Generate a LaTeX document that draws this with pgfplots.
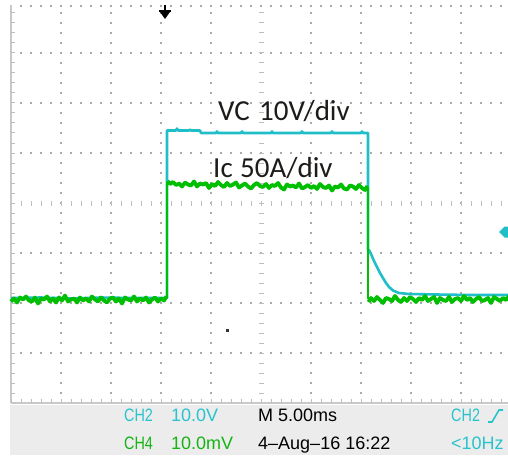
\documentclass[border=0pt]{standalone}
\usepackage{fontspec}
\setmainfont{Liberation Sans}
\newfontfamily\lblfont{Carlito}
\usepackage{pgfplots}
\pgfplotsset{compat=1.18}
\definecolor{trcyan}{RGB}{32,190,200}
\definecolor{trgreen}{RGB}{0,190,0}
\definecolor{txcyan}{RGB}{40,195,205}
\definecolor{txgreen}{RGB}{20,180,20}
\definecolor{griddot}{RGB}{170,170,170}
\definecolor{gridln}{RGB}{200,200,200}
\definecolor{gridtk}{RGB}{190,190,190}
\definecolor{panel}{RGB}{236,236,236}
\definecolor{lbl}{RGB}{30,28,25}
\begin{document}
\begin{tikzpicture}
\begin{axis}[scale only axis, width=508pt, height=456pt,
  xmin=-0.22, xmax=9.94, ymin=-5.06, ymax=4.06, hide axis, clip=true]
\fill[white] (axis cs:-0.22,-5.06) rectangle (axis cs:9.94,4.06);
\fill[panel] (axis cs:-0.02,-4.04) rectangle (axis cs:9.94,-5.04);
% dotted grid
\pgfplotsinvokeforeach{1,2,3,4,6,7,8,9}{\draw[griddot, line width=1.4pt, dash pattern=on 1.4pt off 8.6pt] (axis cs:#1,-4.014) -- (axis cs:#1,3.98);}
\pgfplotsinvokeforeach{-3,-2,-1,1,2,3,3.94}{\draw[griddot, line width=1.4pt, dash pattern=on 1.4pt off 8.6pt] (axis cs:-0.014,#1) -- (axis cs:9.94,#1);}
% centre lines with ticks
\draw[gridtk, line width=5pt, dash pattern=on 1pt off 9pt] (axis cs:-0.01,0) -- (axis cs:9.94,0);
\draw[gridtk, line width=5pt, dash pattern=on 1pt off 9pt] (axis cs:5,-4.01) -- (axis cs:5,3.94);
% borders
\draw[gridln, line width=1.5pt] (axis cs:0,-4) -- (axis cs:0,3.96);
\draw[gridtk, line width=4pt, dash pattern=on 1pt off 9pt] (axis cs:0.04,-4.01) -- (axis cs:0.04,3.94);
\draw[gridln, line width=1.5pt] (axis cs:0,-4) -- (axis cs:9.94,-4);
\draw[gridtk, line width=4pt, dash pattern=on 1pt off 9pt] (axis cs:-0.01,-3.96) -- (axis cs:9.94,-3.96);

% CH2 : VC (cyan)
\addplot[trcyan, line width=2.6pt, line join=round, mark=none] coordinates {
(0,-1.90) (0.6,-1.89) (1.2,-1.91) (1.8,-1.89) (2.4,-1.90) (3.12,-1.90)
(3.12,1.45) (3.30,1.45) (3.32,1.49) (3.34,1.45) (3.56,1.45) (3.58,1.47) (3.60,1.45)
(3.78,1.45) (3.80,1.40) (4.10,1.40) (4.12,1.43) (4.14,1.40) (4.60,1.40) (4.62,1.43) (4.64,1.40)
(5.20,1.40) (5.22,1.43) (5.24,1.40) (5.80,1.40) (5.82,1.43) (5.84,1.40) (6.40,1.40) (6.42,1.43) (6.44,1.40)
(7.00,1.40) (7.02,1.43) (7.04,1.40) (7.14,1.40)
(7.14,-0.94) (7.16,-0.94) (7.20,-1.02) (7.26,-1.16) (7.32,-1.28) (7.38,-1.40) (7.44,-1.50)
(7.50,-1.60) (7.56,-1.68) (7.64,-1.75) (7.76,-1.80) (7.96,-1.82) (8.50,-1.83) (9.20,-1.84) (9.96,-1.84)
};
% CH4 : Ic (green) -- edges
\addplot[trgreen, line width=2pt, mark=none] coordinates {(3.12,-1.90) (3.12,0.42)};
\addplot[trgreen, line width=2pt, mark=none] coordinates {(7.14,0.32) (7.14,-1.92)};
% CH4 : Ic (green) -- before the pulse
\addplot[trgreen, line width=3.8pt, line join=round, mark=none] coordinates {
(0.00,-1.97) (0.06,-1.91) (0.12,-1.99) (0.18,-1.89) (0.24,-1.93) (0.30,-1.87) (0.36,-1.95) (0.42,-1.97)
(0.48,-1.89) (0.54,-2.01) (0.60,-1.91) (0.66,-1.93) (0.72,-1.87) (0.78,-1.97) (0.84,-1.91) (0.90,-1.99)
(0.96,-1.89) (1.02,-1.95) (1.08,-1.85) (1.14,-1.97) (1.20,-1.93) (1.26,-1.91) (1.32,-1.99) (1.38,-1.89)
(1.44,-1.95) (1.50,-1.91) (1.56,-1.97) (1.62,-1.87) (1.68,-1.93) (1.74,-1.97) (1.80,-1.89) (1.86,-1.95)
(1.92,-1.99) (1.98,-1.91) (2.04,-1.89) (2.10,-1.97) (2.16,-1.91) (2.22,-2.01) (2.28,-1.89) (2.34,-1.93)
(2.40,-1.95) (2.46,-1.87) (2.52,-1.97) (2.58,-1.91) (2.64,-1.95) (2.70,-1.89) (2.76,-1.99) (2.82,-1.93)
(2.88,-1.89) (2.94,-1.97) (3.00,-1.91) (3.06,-1.95) (3.11,-1.87)
};
% during the pulse
\addplot[trgreen, line width=3.8pt, line join=round, mark=none] coordinates {
(3.13,0.44) (3.18,0.38) (3.24,0.42) (3.30,0.36) (3.36,0.39) (3.42,0.33) (3.48,0.41) (3.54,0.37)
(3.60,0.35) (3.66,0.43) (3.72,0.33) (3.78,0.39) (3.84,0.37) (3.90,0.40) (3.96,0.30) (4.02,0.38)
(4.08,0.34) (4.14,0.42) (4.20,0.36) (4.26,0.32) (4.32,0.40) (4.38,0.34) (4.44,0.37) (4.50,0.41)
(4.56,0.31) (4.62,0.35) (4.68,0.39) (4.74,0.33) (4.80,0.29) (4.86,0.36) (4.92,0.40) (4.98,0.34)
(5.04,0.32) (5.10,0.38) (5.16,0.30) (5.22,0.36) (5.28,0.34) (5.34,0.40) (5.40,0.31) (5.46,0.27)
(5.52,0.37) (5.58,0.33) (5.64,0.35) (5.70,0.31) (5.76,0.39) (5.82,0.29) (5.88,0.32) (5.94,0.36)
(6.00,0.30) (6.06,0.34) (6.12,0.28) (6.18,0.38) (6.24,0.32) (6.30,0.30) (6.36,0.35) (6.42,0.25)
(6.48,0.33) (6.54,0.31) (6.60,0.37) (6.66,0.29) (6.72,0.27) (6.78,0.35) (6.84,0.33) (6.90,0.28)
(6.96,0.36) (7.02,0.30) (7.08,0.26) (7.13,0.34)
};
% after the pulse
\addplot[trgreen, line width=3.8pt, line join=round, mark=none] coordinates {
(7.15,-1.98) (7.20,-1.90) (7.26,-1.96) (7.32,-1.88) (7.38,-1.94) (7.44,-2.00) (7.50,-1.90) (7.56,-1.92)
(7.62,-1.96) (7.68,-1.86) (7.74,-1.94) (7.80,-1.98) (7.86,-1.90) (7.92,-1.96) (7.98,-1.88) (8.04,-1.92)
(8.10,-1.98) (8.16,-1.90) (8.22,-1.94) (8.28,-1.86) (8.34,-1.96) (8.40,-1.92) (8.46,-1.88) (8.52,-2.00)
(8.58,-1.90) (8.64,-1.94) (8.70,-1.96) (8.76,-1.88) (8.82,-1.98) (8.88,-1.92) (8.94,-1.90) (9.00,-1.96)
(9.06,-1.86) (9.12,-1.94) (9.18,-1.90) (9.24,-1.98) (9.30,-1.92) (9.36,-1.88) (9.42,-1.96) (9.48,-1.94)
(9.54,-1.90) (9.60,-2.00) (9.66,-1.88) (9.72,-1.92) (9.78,-1.96) (9.84,-1.90) (9.90,-1.94) (9.96,-1.86)
};

% trigger position marker
\draw[black, line width=2pt] (axis cs:3.08,3.96) -- (axis cs:3.08,3.82);
\draw[black, line width=1.6pt] (axis cs:2.96,3.84) -- (axis cs:3.20,3.84);
\fill[black] (axis cs:2.96,3.85) -- (axis cs:3.20,3.85) -- (axis cs:3.08,3.68) -- cycle;
% channel marker on the right
\fill[trcyan] (axis cs:9.76,-0.58) -- (axis cs:9.87,-0.47) -- (axis cs:9.94,-0.47) -- (axis cs:9.94,-0.69) -- (axis cs:9.87,-0.69) -- cycle;
% stray dot
\fill[black!80] (axis cs:4.29,-2.51) rectangle (axis cs:4.35,-2.57);

% trace labels
\node[anchor=base west, inner sep=0pt, text=lbl, font=\lblfont\fontsize{29}{29}\selectfont] at (axis cs:4.14,1.64) {VC};
\node[anchor=base west, inner sep=0pt, text=lbl, font=\lblfont\fontsize{29}{29}\selectfont] at (axis cs:4.96,1.64) {10V/div};
\node[anchor=base west, inner sep=0pt, text=lbl, font=\lblfont\fontsize{29}{29}\selectfont] at (axis cs:4.04,0.52) {Ic};
\node[anchor=base west, inner sep=0pt, text=lbl, font=\lblfont\fontsize{29}{29}\selectfont] at (axis cs:4.58,0.52) {50A/div};

% status panel
\node[anchor=base west, inner sep=0pt, text=txcyan, font=\fontsize{18}{18}\selectfont] at (axis cs:2.26,-4.36) {\scalebox{0.8}[1]{CH2}};
\node[anchor=base west, inner sep=0pt, text=txcyan, font=\fontsize{18}{18}\selectfont] at (axis cs:3.20,-4.36) {10.0V};
\node[anchor=base west, inner sep=0pt, text=txgreen, font=\fontsize{18}{18}\selectfont] at (axis cs:2.26,-4.92) {\scalebox{0.8}[1]{CH4}};
\node[anchor=base west, inner sep=0pt, text=txgreen, font=\fontsize{18}{18}\selectfont] at (axis cs:3.20,-4.92) {10.0mV};
\node[anchor=base west, inner sep=0pt, text=black, font=\fontsize{18}{18}\selectfont] at (axis cs:4.94,-4.36) {M 5.00ms};
\node[anchor=base west, inner sep=0pt, text=black, font=\fontsize{18}{18}\selectfont] at (axis cs:4.94,-4.92) {4\textendash Aug\textendash 16 16:22};
\node[anchor=base west, inner sep=0pt, text=txcyan, font=\fontsize{18}{18}\selectfont] at (axis cs:8.80,-4.36) {\scalebox{0.8}[1]{CH2}};
\draw[txcyan, line width=1.6pt] (axis cs:9.54,-4.38) -- (axis cs:9.62,-4.38) -- (axis cs:9.76,-4.14) -- (axis cs:9.84,-4.14);
\node[anchor=base west, inner sep=0pt, text=txcyan, font=\fontsize{18}{18}\selectfont] at (axis cs:8.80,-4.92) {<10Hz};
\end{axis}
\end{tikzpicture}
\end{document}
